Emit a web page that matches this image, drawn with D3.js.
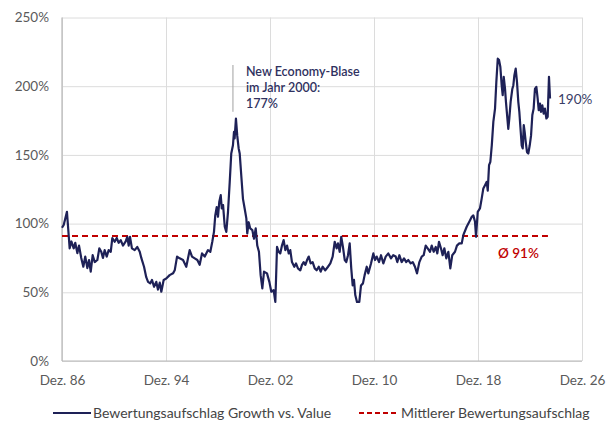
<!DOCTYPE html>
<html>
<head>
<meta charset="utf-8">
<script src="https://cdn.jsdelivr.net/npm/d3@7"></script>
<style>
  body { margin: 0; background: #fff; }
  svg text { font-family: Lato, "Open Sans", sans-serif; }
</style>
</head>
<body>
<div id="chart"></div>
<script>
// decimal years (Dez. 86 = 1986.92) and premium growth vs. value in %
var years = [1986.92, 1987.05, 1987.30, 1987.51, 1987.64, 1987.82, 1987.94, 1988.10, 1988.23, 1988.40,
  1988.56, 1988.71, 1988.87, 1989.00, 1989.13, 1989.28, 1989.44, 1989.64, 1989.79, 1989.94,
  1990.07, 1990.20, 1990.36, 1990.51, 1990.67, 1990.79, 1990.97, 1991.13, 1991.28, 1991.44,
  1991.61, 1991.82, 1991.94, 1992.05, 1992.15, 1992.30, 1992.51, 1992.71, 1992.90, 1993.02,
  1993.23, 1993.40, 1993.54, 1993.71, 1993.84, 1994.00, 1994.17, 1994.30, 1994.44, 1994.56,
  1994.74, 1994.94, 1995.20, 1995.46, 1995.59, 1995.77, 1995.97, 1996.23, 1996.48, 1996.74,
  1996.92, 1997.13, 1997.33, 1997.51, 1997.69, 1997.90, 1998.15, 1998.33, 1998.48, 1998.61,
  1998.71, 1998.82, 1998.92, 1999.02, 1999.13, 1999.21, 1999.31, 1999.44, 1999.56, 1999.69,
  1999.82, 1999.94, 2000.07, 2000.15, 2000.20, 2000.30, 2000.40, 2000.51, 2000.59, 2000.71,
  2000.84, 2000.97, 2001.10, 2001.17, 2001.28, 2001.40, 2001.56, 2001.69, 2001.82, 2001.94,
  2002.07, 2002.20, 2002.33, 2002.46, 2002.69, 2002.87, 2003.02, 2003.20, 2003.33, 2003.46,
  2003.59, 2003.71, 2003.84, 2003.97, 2004.10, 2004.23, 2004.36, 2004.48, 2004.61, 2004.79,
  2004.92, 2005.07, 2005.25, 2005.38, 2005.51, 2005.64, 2005.77, 2005.90, 2006.05, 2006.20,
  2006.36, 2006.51, 2006.67, 2006.82, 2006.97, 2007.17, 2007.38, 2007.56, 2007.74, 2007.90,
  2008.05, 2008.15, 2008.28, 2008.40, 2008.53, 2008.67, 2008.79, 2008.92, 2009.05, 2009.17,
  2009.28, 2009.38, 2009.48, 2009.61, 2009.79, 2009.92, 2010.07, 2010.20, 2010.36, 2010.48,
  2010.69, 2010.87, 2011.00, 2011.13, 2011.31, 2011.46, 2011.64, 2011.82, 2012.02, 2012.23,
  2012.40, 2012.59, 2012.71, 2012.87, 2013.05, 2013.23, 2013.40, 2013.56, 2013.74, 2013.90,
  2014.07, 2014.23, 2014.41, 2014.59, 2014.74, 2014.90, 2015.05, 2015.23, 2015.36, 2015.51,
  2015.67, 2015.79, 2015.92, 2016.07, 2016.20, 2016.33, 2016.48, 2016.64, 2016.79, 2016.94,
  2017.15, 2017.30, 2017.48, 2017.67, 2017.79, 2018.05, 2018.31, 2018.44, 2018.56, 2018.69,
  2018.77, 2018.90, 2019.07, 2019.20, 2019.33, 2019.46, 2019.59, 2019.67, 2019.77, 2019.87,
  2019.98, 2020.10, 2020.23, 2020.33, 2020.44, 2020.54, 2020.64, 2020.74, 2020.82, 2020.90,
  2021.00, 2021.07, 2021.17, 2021.25, 2021.33, 2021.43, 2021.56, 2021.64, 2021.72, 2021.82,
  2021.92, 2022.02, 2022.10, 2022.18, 2022.28, 2022.36, 2022.44, 2022.51, 2022.59, 2022.69,
  2022.79, 2022.90, 2023.00, 2023.10, 2023.20, 2023.30, 2023.41, 2023.51, 2023.59, 2023.69,
  2023.77, 2023.87, 2023.97, 2024.07, 2024.18, 2024.28, 2024.38, 2024.46];

var premium = [97, 99, 108.6, 82, 87, 82, 86, 78.5, 84, 75,
  68.6, 76, 67.6, 73.5, 65, 77, 72, 73.5, 82, 79.5,
  75, 80.7, 76, 80.7, 79.5, 89.5, 86.8, 89.5, 86, 88,
  84, 87, 90.4, 84, 90.4, 82, 80.7, 83, 79.5, 75,
  68.6, 61, 57.6, 56.5, 59, 54, 57.6, 52, 57, 50.4,
  59, 60, 62.5, 63.8, 66, 76, 74.7, 73.5, 68.6, 80.7,
  76, 74.7, 73.5, 70, 78.3, 76, 80.7, 79.5, 86.8, 94,
  106, 112, 105, 116, 120.7, 111, 113.5, 97.7, 94, 108.6,
  130, 151, 157, 166.8, 162, 176.5, 164, 154.7, 151, 135,
  118, 111, 103.8, 92.8, 101, 96.5, 95.3, 89, 96.5, 84,
  79.5, 62.5, 52.8, 65, 63.8, 57.6, 50.4, 51.6, 43, 83,
  79.5, 78.3, 84, 88, 80.7, 84, 78.3, 80.7, 72, 68.6,
  71, 67.4, 66, 70, 72, 70, 73.5, 76, 71, 72,
  67.4, 66, 68.6, 65, 68.6, 66, 68.6, 71, 76, 86.8,
  82, 85.6, 79.5, 90.4, 83, 73.5, 72, 77, 85.6, 67.4,
  55, 59, 48, 43, 43, 55, 56.5, 62.5, 68.6, 63.8,
  71, 78.3, 73.5, 76, 72, 77, 71, 76, 78.3, 74.7,
  77, 76, 72, 77, 72, 74.7, 72, 73.5, 71, 72,
  68.6, 63.8, 72, 76, 77, 84, 82, 79.5, 84, 79.5,
  83, 78.3, 86.8, 82, 77, 82, 74.7, 79.5, 67.4, 77,
  79.5, 84, 85.6, 85.6, 91.6, 97.7, 102.5, 105, 106, 101.3,
  90.4, 108.6, 111, 118, 125.6, 128, 130.4, 124, 142.5, 145,
  157, 174, 183.7, 203, 220, 219, 214, 200.7, 193.5, 206.8,
  198, 188.6, 177.7, 169, 176.5, 188.6, 198, 200.7, 208, 212.8,
  203, 188.6, 181.3, 170.4, 157, 154.7, 171.6, 166.8, 159.5, 152,
  151, 157, 164, 179, 183.7, 198, 199.5, 191, 182.5, 187.4,
  181.3, 186, 180, 183.7, 176.5, 177.7, 206.8, 191];

var averagePremium = 91;
var averageSpan = [1986.92, 2024.30];
var xTickYears = [1986.92, 1994.92, 2002.92, 2010.92, 2018.92, 2026.92];
var xTickLabels = ["Dez. 86", "Dez. 94", "Dez. 02", "Dez. 10", "Dez. 18", "Dez. 26"];
var yTicks = [0, 50, 100, 150, 200, 250];
var peakYear = 2000.30, peakValue = 177;
var peakLabel = ["New Economy-Blase", "im Jahr 2000:", "177%"];
var lastLabel = "190%";
var avgLabel = "Ø 91%";
var legendNames = ["Bewertungsaufschlag Growth vs. Value", "Mittlerer Bewertungsaufschlag"];

var W = 611, H = 423;
var plotLeft = 62, plotRight = 582, plotTop = 17.5, plotBottom = 361;
var navy = "#1e2157", red = "#c00000";

var data = years.map(function(d, i) { return { t: d, v: premium[i] }; });

var svg = d3.select("#chart").append("svg")
    .attr("width", W)
    .attr("height", H);

var x = d3.scaleLinear().domain([xTickYears[0], xTickYears[xTickYears.length - 1]]).range([plotLeft, plotRight]);
var y = d3.scaleLinear().domain([0, 250]).range([plotBottom, plotTop]);

// y axis + horizontal grid
var yAxis = svg.append("g")
    .attr("transform", "translate(" + plotLeft + ",0)")
    .call(d3.axisLeft(y).tickValues(yTicks).tickSize(-(plotRight - plotLeft)).tickPadding(13).tickFormat(function(d) { return d + "%"; }));
yAxis.select(".domain").remove();
yAxis.selectAll("line").attr("stroke", "#dcdcdc");
yAxis.selectAll("text").attr("fill", "#5a5a5a").style("font-size", "13.5px");

// x axis + vertical grid
var xAxis = svg.append("g")
    .attr("transform", "translate(0," + plotBottom + ")")
    .call(d3.axisBottom(x).tickValues(xTickYears).tickSize(-(plotBottom - plotTop)).tickPadding(14).tickFormat(function(d, i) { return xTickLabels[i]; }));
xAxis.select(".domain").remove();
xAxis.selectAll("line").attr("stroke", "#dcdcdc");
xAxis.selectAll("text").attr("fill", "#5a5a5a").style("font-size", "13.5px");

// axis lines
svg.append("line").attr("x1", plotLeft).attr("x2", plotLeft).attr("y1", plotTop).attr("y2", plotBottom)
    .attr("stroke", "#b8b8b8").attr("stroke-width", 1.2);
svg.append("line").attr("x1", plotLeft).attr("x2", plotRight).attr("y1", plotBottom).attr("y2", plotBottom)
    .attr("stroke", "#b8b8b8").attr("stroke-width", 1.2);

// average line
svg.append("line")
    .attr("x1", x(averageSpan[0])).attr("x2", x(averageSpan[1]))
    .attr("y1", y(averagePremium)).attr("y2", y(averagePremium))
    .attr("stroke", red).attr("stroke-width", 2).attr("stroke-dasharray", "6,4");

// premium line
var line = d3.line().x(function(d) { return x(d.t); }).y(function(d) { return y(d.v); });
svg.append("path")
    .datum(data)
    .attr("d", line)
    .attr("fill", "none")
    .attr("stroke", navy)
    .attr("stroke-width", 2.2)
    .attr("stroke-linejoin", "round");

// peak annotation
svg.append("line")
    .attr("x1", x(peakYear) - 3).attr("x2", x(peakYear) - 3)
    .attr("y1", 65).attr("y2", y(peakValue) - 6)
    .attr("stroke", "#a0a0a0").attr("stroke-width", 1);
svg.append("g").selectAll("text")
    .data(peakLabel)
    .enter()
    .append("text")
    .attr("x", x(peakYear) + 10)
    .attr("y", function(d, i) { return 76 + i * 16; })
    .text(function(d) { return d; })
    .attr("fill", "#2f3160")
    .style("font-size", "12.5px")
    .style("font-weight", "600");

svg.append("text")
    .attr("x", x(years[years.length - 1]) + 8)
    .attr("y", y(premium[premium.length - 1]) + 5)
    .text(lastLabel)
    .attr("fill", "#3a3d66")
    .style("font-size", "13.5px");

svg.append("text")
    .attr("x", 498)
    .attr("y", y(averagePremium) + 22)
    .text(avgLabel)
    .attr("fill", red)
    .style("font-size", "13.5px")
    .style("font-weight", "600");

// legend
var legend = svg.append("g").attr("transform", "translate(0,413)");
legend.append("line").attr("x1", 53).attr("x2", 91).attr("y1", 0).attr("y2", 0)
    .attr("stroke", navy).attr("stroke-width", 2);
legend.append("line").attr("x1", 359).attr("x2", 398).attr("y1", 0).attr("y2", 0)
    .attr("stroke", red).attr("stroke-width", 2).attr("stroke-dasharray", "5,3");
legend.selectAll("text.lab")
    .data(legendNames)
    .enter()
    .append("text")
    .attr("class", "lab")
    .attr("x", function(d, i) { return i === 0 ? 93 : 401; })
    .attr("y", 0)
    .attr("dy", "0.35em")
    .text(function(d) { return d; })
    .attr("fill", "#444")
    .style("font-size", "14px");
</script>
</body>
</html>
